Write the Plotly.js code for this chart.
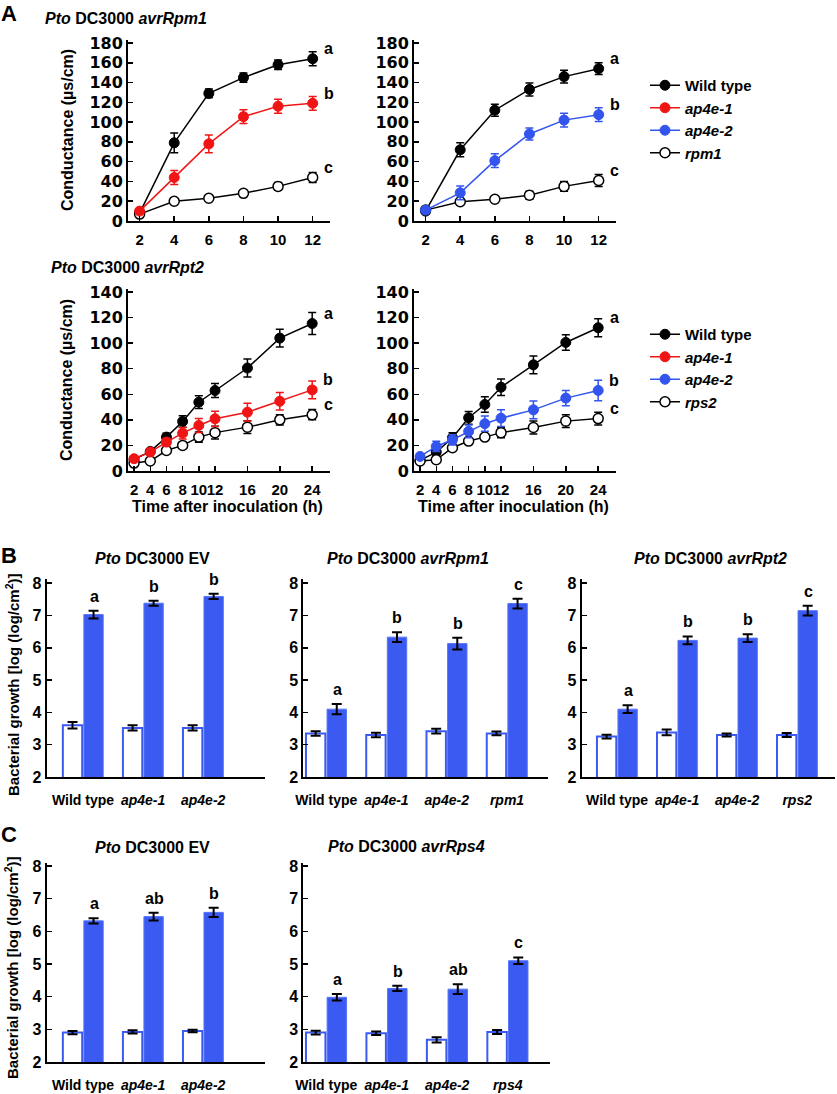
<!DOCTYPE html>
<html><head><meta charset="utf-8">
<script src="https://cdn.plot.ly/plotly-3.0.1.min.js"></script>
<style>html,body{margin:0;padding:0;background:#fff}#chart{width:837px;height:1094px}</style>
</head><body><div id="chart"></div>
<script>
// ---------- Panel A data ----------
const timeRpm1 = [2, 4, 6, 8, 10, 12];
const timeRpt2 = [2, 4, 6, 8, 10, 12, 16, 20, 24];
const yTicksRpm1 = [0, 20, 40, 60, 80, 100, 120, 140, 160, 180];
const yTicksRpt2 = [0, 20, 40, 60, 80, 100, 120, 140];

const rpm1L_wt = [8, 79, 129, 145, 158, 164];
const rpm1L_wt_err = [2, 10, 4.5, 4.7, 4.7, 7];
const rpm1L_ap4e1 = [10, 44, 78, 105.5, 116, 119];
const rpm1L_ap4e1_err = [2, 7, 9, 7, 7, 7];
const rpm1L_rpm1 = [7, 20, 23, 28, 35, 44];
const rpm1L_rpm1_err = [1.5, 1.5, 1.5, 1.5, 4, 5];

const rpm1R_wt = [10, 72, 112, 133, 146, 154];
const rpm1R_wt_err = [2, 7, 6, 6.5, 6.5, 6];
const rpm1R_ap4e2 = [11, 28.5, 61, 88, 102, 107.5];
const rpm1R_ap4e2_err = [2, 7, 7, 6, 7, 7];
const rpm1R_rpm1 = [11, 19.5, 22, 26, 35, 41];
const rpm1R_rpm1_err = [1.5, 1.5, 1.5, 4, 5, 6];

const rpt2L_wt = [9, 15.3, 26.5, 38.7, 53.8, 62.9, 80.5, 103.9, 115.3];
const rpt2L_wt_err = [2, 2, 3, 4.5, 5, 5.5, 7, 7, 8.6];
const rpt2L_ap4e1 = [9.6, 14.8, 22.6, 29.6, 35.6, 40.8, 46, 54.5, 63.4];
const rpt2L_ap4e1_err = [2, 2, 3, 4.5, 5.5, 6, 7, 6.8, 7];
const rpt2L_rps2 = [6.2, 7.8, 16, 20, 26.5, 30, 34.3, 40, 44];
const rpt2L_rps2_err = [1.5, 1.5, 1.5, 1.5, 4, 5, 5, 4, 4];

const rpt2R_wt = [8.3, 14.8, 26, 41.6, 52, 65.5, 83, 100.5, 112];
const rpt2R_wt_err = [2, 2, 4, 5, 6, 6.5, 7, 6, 7];
const rpt2R_ap4e2 = [11.4, 19.2, 24.4, 31, 37, 41.3, 47.8, 57, 63];
const rpt2R_ap4e2_err = [2, 4, 4, 5, 6, 6.5, 7, 6, 8];
const rpt2R_rps2 = [7.8, 8.8, 18.2, 23.4, 26.5, 30, 34, 39, 41];
const rpt2R_rps2_err = [1.5, 1.5, 1.5, 1.5, 2, 4, 5, 5, 5];

const lettersA = ['a', 'b', 'c'];

// ---------- Panel B / C data ----------
const yTicksGrowth = [2, 3, 4, 5, 6, 7, 8];
const genoEV = ['Wild type', 'ap4e-1', 'ap4e-2'];
const genoRpm1 = ['Wild type', 'ap4e-1', 'ap4e-2', 'rpm1'];
const genoRpt2 = ['Wild type', 'ap4e-1', 'ap4e-2', 'rps2'];
const genoRps4 = ['Wild type', 'ap4e-1', 'ap4e-2', 'rps4'];

const bEV_d0 = [3.6, 3.52, 3.52];
const bEV_d0_err = [0.1, 0.08, 0.08];
const bEV_d3 = [7.03, 7.38, 7.59];
const bEV_d3_err = [0.12, 0.08, 0.08];
const bEV_letters = ['a', 'b', 'b'];

const bRpm1_d0 = [3.35, 3.3, 3.42, 3.35];
const bRpm1_d0_err = [0.07, 0.07, 0.07, 0.06];
const bRpm1_d3 = [4.1, 6.33, 6.13, 7.37];
const bRpm1_d3_err = [0.16, 0.15, 0.18, 0.15];
const bRpm1_letters = ['a', 'b', 'b', 'c'];

const bRpt2_d0 = [3.25, 3.38, 3.3, 3.3];
const bRpt2_d0_err = [0.06, 0.09, 0.05, 0.06];
const bRpt2_d3 = [4.1, 6.23, 6.3, 7.15];
const bRpt2_d3_err = [0.12, 0.12, 0.12, 0.15];
const bRpt2_letters = ['a', 'b', 'b', 'c'];

const cEV_d0 = [2.9, 2.92, 2.95];
const cEV_d0_err = [0.05, 0.05, 0.04];
const cEV_d3 = [6.32, 6.45, 6.58];
const cEV_d3_err = [0.08, 0.12, 0.14];
const cEV_letters = ['a', 'ab', 'b'];

const cRps4_d0 = [2.9, 2.88, 2.68, 2.92];
const cRps4_d0_err = [0.06, 0.05, 0.08, 0.06];
const cRps4_d3 = [3.98, 4.25, 4.23, 5.1];
const cRps4_d3_err = [0.1, 0.08, 0.15, 0.1];
const cRps4_letters = ['a', 'b', 'ab', 'c'];

// ---------- styling ----------
const W = 837, H = 1094;
const px = v => v / W;
const py = v => 1 - v / H;
const FONT = 'Liberation Sans, Arial, Helvetica, sans-serif';
const WIDEFONT = 'DejaVu Sans, Liberation Sans, sans-serif';
const BLACK = '#000000', RED = '#f01515', BLUE = '#3355ee';
const BARBLUE = '#3a5af2', BARLINE = '#5876f6';
const italic = s => (s === 'Wild type' ? s : '<i>' + s + '</i>');

const traces = [];
function lineTrace(x, y, err, color, open, ax, name, legend, rank, show) {
  traces.push({
    type: 'scatter', mode: 'lines+markers', x: x, y: y,
    xaxis: 'x' + ax, yaxis: 'y' + ax,
    name: name, legend: legend, legendrank: rank, showlegend: show,
    line: {color: color, width: 1.5},
    marker: {size: 10, color: open ? '#ffffff' : color, line: {color: color, width: open ? 1.5 : 1}},
    error_y: {type: 'data', array: err, color: color, thickness: 1.5, width: 4},
    hoverinfo: 'skip'
  });
}
// A1
lineTrace(timeRpm1, rpm1L_wt, rpm1L_wt_err, BLACK, false, '', 'Wild type', 'legend', 1, true);
lineTrace(timeRpm1, rpm1L_rpm1, rpm1L_rpm1_err, BLACK, true, '', '<i>rpm1</i>', 'legend', 4, true);
lineTrace(timeRpm1, rpm1L_ap4e1, rpm1L_ap4e1_err, RED, false, '', '<i>ap4e-1</i>', 'legend', 2, true);
// A2
lineTrace(timeRpm1, rpm1R_wt, rpm1R_wt_err, BLACK, false, '2', 'Wild type', 'legend', 1, false);
lineTrace(timeRpm1, rpm1R_rpm1, rpm1R_rpm1_err, BLACK, true, '2', '<i>rpm1</i>', 'legend', 4, false);
lineTrace(timeRpm1, rpm1R_ap4e2, rpm1R_ap4e2_err, BLUE, false, '2', '<i>ap4e-2</i>', 'legend', 3, true);
// A3
lineTrace(timeRpt2, rpt2L_wt, rpt2L_wt_err, BLACK, false, '3', 'Wild type', 'legend2', 1, true);
lineTrace(timeRpt2, rpt2L_rps2, rpt2L_rps2_err, BLACK, true, '3', '<i>rps2</i>', 'legend2', 4, true);
lineTrace(timeRpt2, rpt2L_ap4e1, rpt2L_ap4e1_err, RED, false, '3', '<i>ap4e-1</i>', 'legend2', 2, true);
// A4
lineTrace(timeRpt2, rpt2R_wt, rpt2R_wt_err, BLACK, false, '4', 'Wild type', 'legend2', 1, false);
lineTrace(timeRpt2, rpt2R_rps2, rpt2R_rps2_err, BLACK, true, '4', '<i>rps2</i>', 'legend2', 4, false);
lineTrace(timeRpt2, rpt2R_ap4e2, rpt2R_ap4e2_err, BLUE, false, '4', '<i>ap4e-2</i>', 'legend2', 3, true);

function barPair(geno, d0, d0e, d3, d3e, ax) {
  traces.push({
    type: 'bar', x: geno, y: d0, xaxis: 'x' + ax, yaxis: 'y' + ax, showlegend: false,
    marker: {color: '#ffffff', line: {color: BARBLUE, width: 2}},
    error_y: {type: 'data', array: d0e, color: BLACK, thickness: 2, width: 5}, hoverinfo: 'skip'
  });
  traces.push({
    type: 'bar', x: geno, y: d3, xaxis: 'x' + ax, yaxis: 'y' + ax, showlegend: false,
    marker: {color: BARBLUE, line: {color: BARLINE, width: 1}},
    error_y: {type: 'data', array: d3e, color: BLACK, thickness: 2, width: 5}, hoverinfo: 'skip'
  });
}
barPair(genoEV, bEV_d0, bEV_d0_err, bEV_d3, bEV_d3_err, '5');
barPair(genoRpm1, bRpm1_d0, bRpm1_d0_err, bRpm1_d3, bRpm1_d3_err, '6');
barPair(genoRpt2, bRpt2_d0, bRpt2_d0_err, bRpt2_d3, bRpt2_d3_err, '7');
barPair(genoEV, cEV_d0, cEV_d0_err, cEV_d3, cEV_d3_err, '8');
barPair(genoRps4, cRps4_d0, cRps4_d0_err, cRps4_d3, cRps4_d3_err, '9');

// ---------- axes ----------
const baseAx = {
  showline: true, linecolor: BLACK, linewidth: 2, showgrid: false, zeroline: false,
  ticks: 'inside', ticklen: 5, tickwidth: 1.5, tickcolor: BLACK, fixedrange: true
};
const layout = {
  width: W, height: H, margin: {l: 0, r: 0, t: 0, b: 0},
  paper_bgcolor: '#ffffff', plot_bgcolor: 'rgba(0,0,0,0)',
  font: {family: FONT, color: BLACK, size: 15, weight: 'bold'},
  barmode: 'group', bargap: 0.3, bargroupgap: 0.08,
  showlegend: true,
  legend: {x: px(645), y: py(69), xanchor: 'left', yanchor: 'top', bgcolor: 'rgba(0,0,0,0)',
    font: {family: FONT, size: 15, weight: 'bold'}, tracegroupgap: 0, traceorder: 'normal'},
  legend2: {x: px(645), y: py(318), xanchor: 'left', yanchor: 'top', bgcolor: 'rgba(0,0,0,0)',
    font: {family: FONT, size: 15, weight: 'bold'}, tracegroupgap: 0, traceorder: 'normal'},
  annotations: []
};
function lineAxes(ax, xl, xr, yb, yt, xrange, xticks, yrange, yticks) {
  layout['xaxis' + ax] = Object.assign({}, baseAx, {
    domain: [px(xl), px(xr)], range: xrange, tickvals: xticks, ticktext: xticks.map(String),
    anchor: 'y' + ax, tickangle: 0, ticklabelstandoff: 4,
    tickfont: {family: FONT, size: 15, weight: 'bold'}
  });
  layout['yaxis' + ax] = Object.assign({}, baseAx, {
    domain: [py(yb), py(yt)], range: yrange, tickvals: yticks,
    anchor: 'x' + ax, ticklabelstandoff: 0,
    tickfont: {family: WIDEFONT, size: 16, weight: 'bold'}
  });
}
lineAxes('', 128, 330, 221, 40, [1.33, 13.0], timeRpm1, [0, 183], yTicksRpm1);
lineAxes('2', 414, 616, 221, 40, [1.33, 13.0], timeRpm1, [0, 183], yTicksRpm1);
lineAxes('3', 128, 330, 471, 289, [1.25, 26.2], timeRpt2, [0, 142.3], yTicksRpt2);
lineAxes('4', 414, 616, 471, 289, [1.25, 26.2], timeRpt2, [0, 142.3], yTicksRpt2);

function barAxes(ax, xl, xr, yb, yt, xrange, geno, yrange) {
  layout['xaxis' + ax] = Object.assign({}, baseAx, {
    domain: [px(xl), px(xr)], type: 'category', categoryarray: geno, categoryorder: 'array',
    range: xrange, tickvals: geno, ticktext: geno.map(italic), ticks: '', tickangle: 0,
    anchor: 'y' + ax, ticklabelstandoff: 9,
    tickfont: {family: FONT, size: 14, weight: 'bold'}
  });
  layout['yaxis' + ax] = Object.assign({}, baseAx, {
    domain: [py(yb), py(yt)], range: yrange, tickvals: yTicksGrowth,
    anchor: 'x' + ax, ticklabelstandoff: 0,
    tickfont: {family: FONT, size: 16, weight: 'bold'}
  });
}
barAxes('5', 46.7, 265, 777, 579, [-0.605, 3.03], genoEV, [2, 8.13]);
barAxes('6', 303.3, 548, 777, 579, [-0.38, 3.68], genoRpm1, [2, 8.13]);
barAxes('7', 581.7, 835, 777, 579, [-0.59, 3.63], genoRpt2, [2, 8.13]);
barAxes('8', 46.7, 265, 1062, 862.7, [-0.605, 3.03], genoEV, [2, 8.1]);
barAxes('9', 303.3, 550, 1062, 862.7, [-0.38, 3.7], genoRps4, [2, 8.1]);

// ---------- annotations ----------
function txt(text, x, y, opts) {
  layout.annotations.push(Object.assign({
    text: text, xref: 'paper', yref: 'paper', x: px(x), y: py(y),
    xanchor: 'center', yanchor: 'middle', showarrow: false,
    font: {family: FONT, size: 16, weight: 'bold', color: BLACK}
  }, opts || {}));
}
// panel labels
txt('A', 9, 13, {font: {family: FONT, size: 22, weight: 'bold'}});
txt('B', 9, 555, {font: {family: FONT, size: 22, weight: 'bold'}});
txt('C', 9, 834, {font: {family: FONT, size: 22, weight: 'bold'}});
// titles
txt('<i>Pto</i> DC3000 <i>avrRpm1</i>', 43, 18, {xanchor: 'left'});
txt('<i>Pto</i> DC3000 <i>avrRpt2</i>', 49, 268, {xanchor: 'left'});
txt('<i>Pto</i> DC3000 EV', 152, 558);
txt('<i>Pto</i> DC3000 <i>avrRpm1</i>', 408, 558);
txt('<i>Pto</i> DC3000 <i>avrRpt2</i>', 710, 558);
txt('<i>Pto</i> DC3000 EV', 152, 847);
txt('<i>Pto</i> DC3000 <i>avrRps4</i>', 406, 846);
// axis titles
txt('Conductance (µs/cm)', 67, 130, {textangle: -90});
txt('Conductance (µs/cm)', 66, 380, {textangle: -90});
txt('Time after inoculation (h)', 227, 506);
txt('Time after inoculation (h)', 513, 506);
txt('Bacterial growth [log (log/cm<sup>2</sup>)]', 12, 685, {textangle: -90, font: {family: FONT, size: 15, weight: 'bold'}});
txt('Bacterial growth [log (log/cm<sup>2</sup>)]', 11, 968, {textangle: -90, font: {family: FONT, size: 15, weight: 'bold'}});

// significance letters panel A
function lettersLine(ax, x, series) {
  series.forEach((s, i) => {
    layout.annotations.push({
      text: lettersA[i], xref: 'x' + ax, yref: 'y' + ax, x: x[x.length - 1], y: s[s.length - 1],
      xshift: 16, yshift: 10, xanchor: 'center', yanchor: 'middle', showarrow: false,
      font: {family: FONT, size: 16, weight: 'bold', color: BLACK}
    });
  });
}
lettersLine('', timeRpm1, [rpm1L_wt, rpm1L_ap4e1, rpm1L_rpm1]);
lettersLine('2', timeRpm1, [rpm1R_wt, rpm1R_ap4e2, rpm1R_rpm1]);
lettersLine('3', timeRpt2, [rpt2L_wt, rpt2L_ap4e1, rpt2L_rps2]);
lettersLine('4', timeRpt2, [rpt2R_wt, rpt2R_ap4e2, rpt2R_rps2]);

// significance letters bars
function lettersBar(ax, geno, vals, errs, letters) {
  geno.forEach((g, i) => {
    layout.annotations.push({
      text: letters[i], xref: 'x' + ax, yref: 'y' + ax, x: g, y: vals[i] + errs[i],
      xshift: 11, yshift: 4, xanchor: 'center', yanchor: 'bottom', showarrow: false,
      font: {family: FONT, size: 16, weight: 'bold', color: BLACK}
    });
  });
}
lettersBar('5', genoEV, bEV_d3, bEV_d3_err, bEV_letters);
lettersBar('6', genoRpm1, bRpm1_d3, bRpm1_d3_err, bRpm1_letters);
lettersBar('7', genoRpt2, bRpt2_d3, bRpt2_d3_err, bRpt2_letters);
lettersBar('8', genoEV, cEV_d3, cEV_d3_err, cEV_letters);
lettersBar('9', genoRps4, cRps4_d3, cRps4_d3_err, cRps4_letters);

Plotly.newPlot('chart', traces, layout, {staticPlot: true, displayModeBar: false});
</script></body></html>
